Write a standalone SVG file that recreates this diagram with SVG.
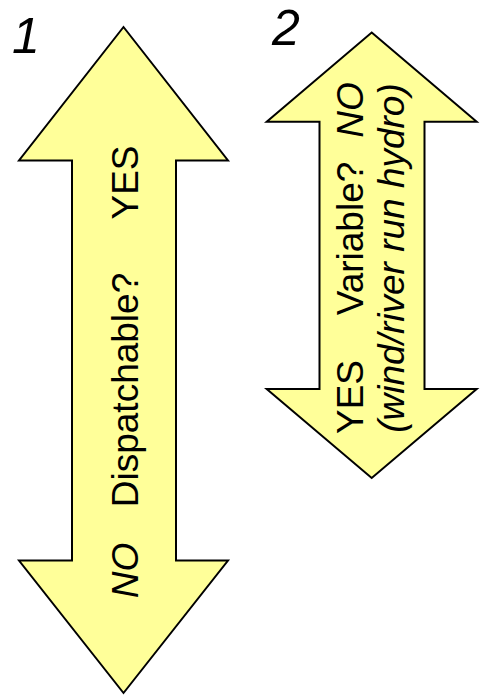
<svg xmlns="http://www.w3.org/2000/svg" width="480" height="697" viewBox="0 0 480 697">
<style>
.arrow{fill:#FFFF99;stroke:#000;stroke-width:2;stroke-linejoin:miter}
.t{font-family:"Liberation Sans",Arial,sans-serif;font-size:37px;fill:#000}
.i{font-style:italic}
.num{font-family:"Liberation Sans",Arial,sans-serif;font-size:50px;font-style:italic;fill:#000}
</style>
<rect width="480" height="697" fill="#fff"/>
<g id="label1"><text class="num" x="12" y="53">1</text></g>
<g id="label2"><text class="num" x="272" y="45">2</text></g>
<g id="arrow1">
<polygon class="arrow" points="123.5,27 228,160.5 176,160.5 176,560.5 228,560.5 123.5,693 19,560.5 72,560.5 72,160.5 19,160.5"/>
<text class="t i" text-anchor="middle" transform="translate(138,570.5) rotate(-90)">NO</text>
<text class="t" text-anchor="middle" transform="translate(138,390) rotate(-90)">Dispatchable?</text>
<text class="t" text-anchor="middle" transform="translate(138,182.5) rotate(-90)">YES</text>
</g>
<g id="arrow2">
<polygon class="arrow" points="371.7,32.5 476.7,121.7 424.5,121.7 424.5,389 476.7,389 371.7,478 266.7,389 319.5,389 319.5,121.7 266.7,121.7"/>
<text class="t" text-anchor="middle" transform="translate(363,397) rotate(-90)">YES</text>
<text class="t" text-anchor="middle" transform="translate(363,238.5) rotate(-90)">Variable?</text>
<text class="t i" text-anchor="middle" transform="translate(363,110) rotate(-90)">NO</text>
<text class="t i" text-anchor="middle" transform="translate(404,258) rotate(-90)">(wind/river run hydro)</text>
</g>
</svg>
